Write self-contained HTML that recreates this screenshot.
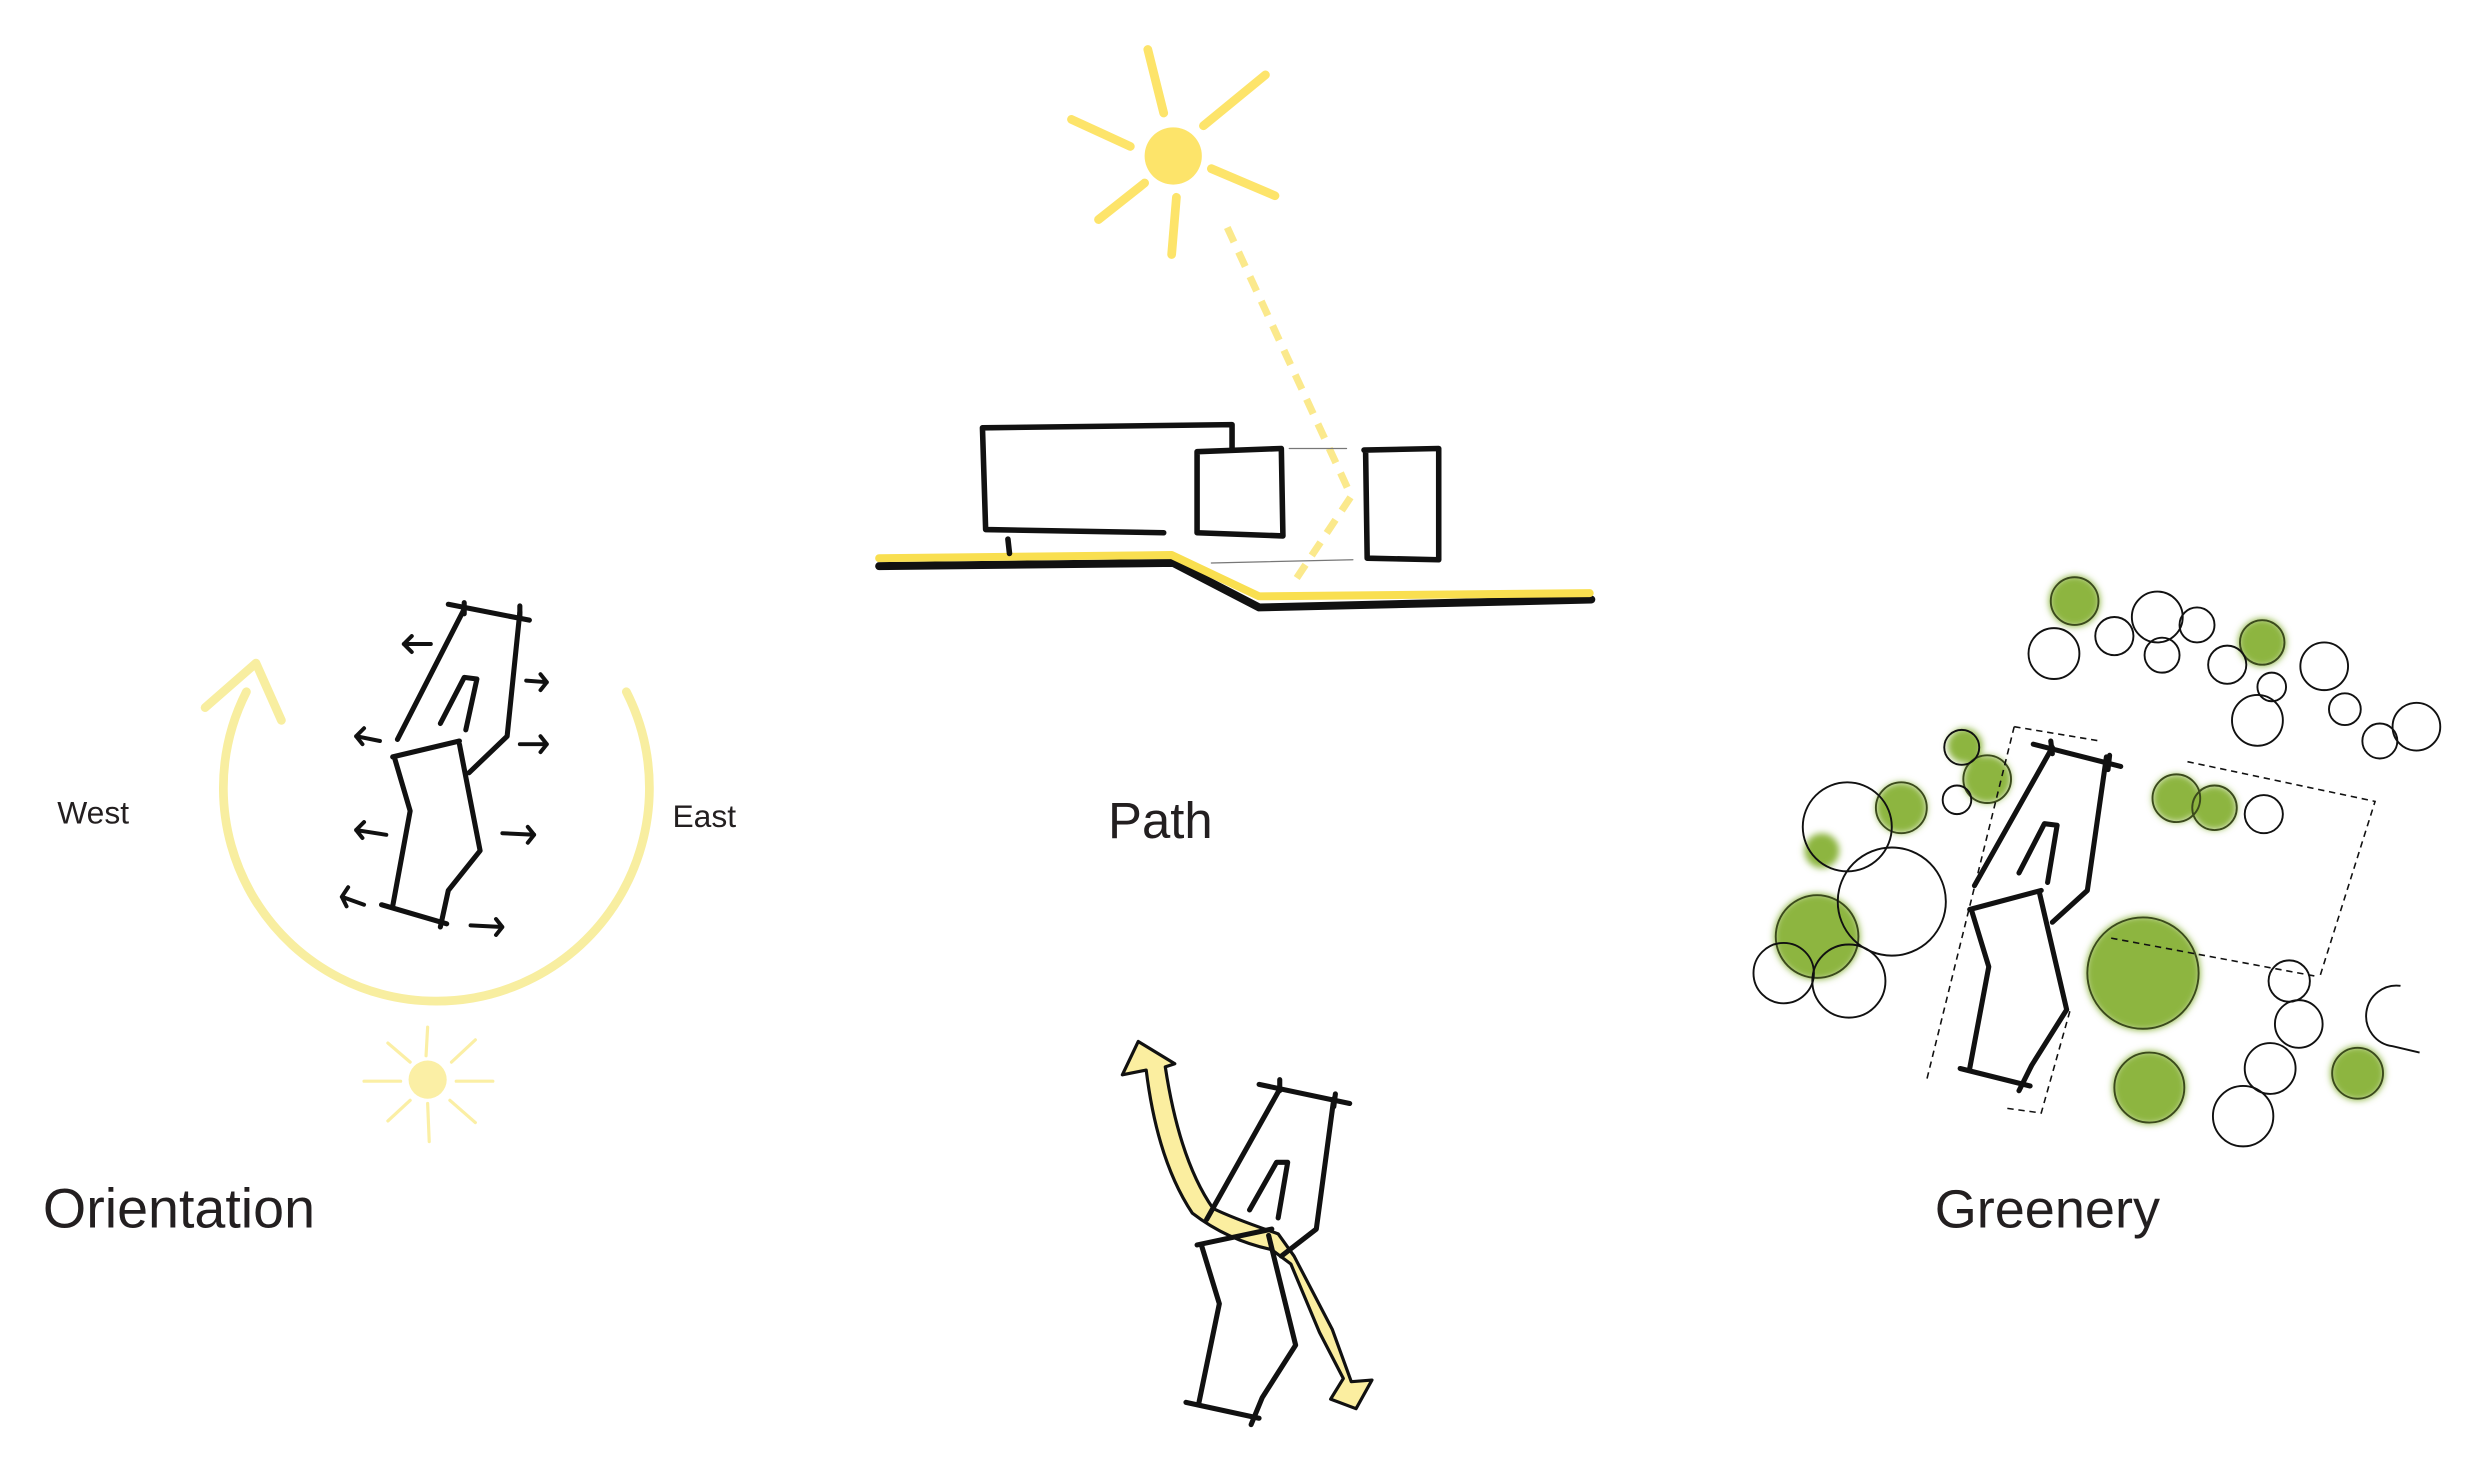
<!DOCTYPE html>
<html><head><meta charset="utf-8"><style>
html,body{margin:0;padding:0;background:#fff;}
svg{display:block;}
text{font-family:"Liberation Sans",sans-serif;fill:#231f20;}
</style></head><body>
<svg width="2480" height="1482" viewBox="0 0 1560 932" xmlns="http://www.w3.org/2000/svg">
<defs>
<filter id="bl" x="-30%" y="-30%" width="160%" height="160%"><feGaussianBlur stdDeviation="2.2"/></filter>
</defs>
<rect width="1560" height="932" fill="#fff"/>

<!-- ORIENTATION -->
<g fill="none" stroke-linecap="round" stroke-linejoin="round">
<path d="M155 435 A134 134 0 1 0 394 435" stroke="#f8eea0" stroke-width="5.5"/>
<path d="M129 445 L161 417 L177 453" stroke="#f8eea0" stroke-width="5.5"/>
<g stroke="#fbefa5" stroke-width="2">
<circle cx="269" cy="679" r="12" fill="#fbefa5" stroke="none"/>
<line x1="269" y1="646" x2="268" y2="664"/><line x1="269" y1="694" x2="270" y2="718"/>
<line x1="229" y1="680" x2="252" y2="680"/><line x1="287" y1="680" x2="310" y2="680"/>
<line x1="244" y1="656" x2="258" y2="668"/><line x1="284" y1="668" x2="299" y2="654"/>
<line x1="244" y1="705" x2="258" y2="692"/><line x1="283" y1="692" x2="299" y2="706"/>
</g>
<g stroke="#111" stroke-width="3.2">
<path d="M282 380 L333 390"/>
<path d="M292 379 L292 386 M327 381 L327 389"/>
<path d="M292 383 L250 465"/>
<path d="M327 385 L319 463 L295 486"/>
<path d="M277 455 L292 426 L300 427 L293 459"/>
<path d="M247 476 L289 466"/>
<path d="M248 476 L258 510 L247 570"/>
<path d="M240 569 L281 581"/>
<path d="M289 468 L302 535 L282 560 L277 583"/>
</g>
<g stroke="#111" stroke-width="2.5">
<path d="M271 405 L254 405 M259 400 L254 405 L259 410"/>
<path d="M239 466 L224 463 M229 458 L224 463 L228 468"/>
<path d="M243 525 L224 522 M229 517 L224 522 L228 527"/>
<path d="M229 569 L215 564 M219 558 L215 564 L218 570"/>
<path d="M331 428 L344 429 M340 424 L344 429 L340 434"/>
<path d="M327 468 L344 468 M340 463 L344 468 L340 473"/>
<path d="M316 524 L336 525 M332 520 L336 525 L332 530"/>
<path d="M296 582 L316 583 M312 578 L316 583 L312 588"/>
</g>
</g>
<text x="36" y="518" font-size="20">West</text>
<text x="423" y="520" font-size="20">East</text>
<text x="27" y="772" font-size="35">Orientation</text>

<!-- PATH SECTION -->
<g fill="none" stroke-linecap="round" stroke-linejoin="round">
<g stroke="#fde46a" stroke-width="5.5">
<line x1="722" y1="31" x2="732" y2="71"/><line x1="796" y1="47" x2="757" y2="79"/>
<line x1="674" y1="75" x2="711" y2="92"/><line x1="762" y1="106" x2="802" y2="123"/>
<line x1="720" y1="115" x2="691" y2="138"/><line x1="740" y1="124" x2="737" y2="160"/>
</g>
<ellipse cx="738" cy="98" rx="18" ry="18" fill="#fde46a"/>
<path d="M772 143 L850 312 L812 369" stroke="#fbe98c" stroke-width="4.5" stroke-dasharray="10 7" stroke-linecap="butt"/>
<path d="M553 356 L738 354 L792 382 L1001 377" stroke="#111" stroke-width="5"/>
<path d="M553 351 L737 349 L792 375 L1000 373" stroke="#f9df50" stroke-width="5"/>
<g stroke="#111" stroke-width="3.5">
<path d="M732 335 L620 333 L618 269 L775 267 L775 282"/>
<path d="M634 339 L635 348"/>
<path d="M753 284 L806 282 L807 337 L753 335 Z"/>
<path d="M858 283 L905 282 L905 352 L860 351 L859 283"/>
</g>
<g stroke="#777" stroke-width="0.8">
<line x1="811" y1="282" x2="847" y2="282"/><line x1="762" y1="354" x2="851" y2="352"/>
</g>
</g>
<text x="697" y="527" font-size="32">Path</text>

<!-- BOTTOM ROUTE -->
<g stroke-linecap="round" stroke-linejoin="round">
<path d="M716 655 L706 676 L721 673 Q728 730 750 763 Q772 780 800 786 L812 795 L830 838 L845 867 L837 880 L853 886 L863 868 L850 869 L838 836 L814 790 L804 776 Q775 766 763 760 Q742 730 733 671 L739 669 Z" fill="#fbeea0" stroke="#111" stroke-width="2"/>
<g fill="none" stroke="#111" stroke-width="3.2">
<path d="M792 682 L849 694"/>
<path d="M805 679 L805 686 M840 688 L839 696"/>
<path d="M805 685 L759 767"/>
<path d="M839 691 L828 773 L806 790"/>
<path d="M786 761 L803 731 L810 731 L804 766"/>
<path d="M753 783 L800 773"/>
<path d="M756 784 L767 820 L754 883"/>
<path d="M746 882 L792 892"/>
<path d="M798 777 L815 846 L794 879 L787 896"/>
</g>
</g>

<!-- GREENERY -->
<g>
<g fill="#8db540" filter="url(#bl)">
<circle cx="1305" cy="378" r="16"/><circle cx="1423" cy="404" r="15"/>
<circle cx="1236" cy="469" r="11"/><circle cx="1250" cy="490" r="15"/>
<circle cx="1196" cy="508" r="16"/><circle cx="1146" cy="535" r="11"/>
<circle cx="1143" cy="589" r="27"/><circle cx="1369" cy="502" r="15"/>
<circle cx="1393" cy="508" r="14"/><circle cx="1348" cy="612" r="36"/>
<circle cx="1352" cy="684" r="23"/><circle cx="1483" cy="675" r="17"/>
</g>
<g fill="none" stroke="#111" stroke-width="1.2">
<circle cx="1305" cy="378" r="15" stroke="#3b4a1c"/><circle cx="1423" cy="404" r="14" stroke="#3b4a1c"/>
<circle cx="1250" cy="490" r="15" stroke="#3b4a1c"/><circle cx="1196" cy="508" r="16" stroke="#3b4a1c"/>
<circle cx="1143" cy="589" r="26" stroke="#3b4a1c"/><circle cx="1369" cy="502" r="15" stroke="#3b4a1c"/>
<circle cx="1393" cy="508" r="14" stroke="#3b4a1c"/><circle cx="1348" cy="612" r="35" stroke="#3b4a1c"/>
<circle cx="1352" cy="684" r="22" stroke="#3b4a1c"/><circle cx="1483" cy="675" r="16" stroke="#3b4a1c"/>
<circle cx="1292" cy="411" r="16"/><circle cx="1330" cy="400" r="12"/>
<circle cx="1357" cy="388" r="16"/><circle cx="1360" cy="412" r="11"/>
<circle cx="1382" cy="393" r="11"/><circle cx="1401" cy="418" r="12"/>
<circle cx="1429" cy="432" r="9"/><circle cx="1462" cy="419" r="15"/>
<circle cx="1420" cy="453" r="16"/><circle cx="1475" cy="446" r="10"/>
<circle cx="1497" cy="466" r="11"/><circle cx="1520" cy="457" r="15"/>
<circle cx="1424" cy="512" r="12"/><circle cx="1234" cy="470" r="11"/>
<circle cx="1231" cy="503" r="9"/>
<circle cx="1162" cy="520" r="28"/><circle cx="1190" cy="567" r="34"/>
<circle cx="1122" cy="612" r="19"/><circle cx="1163" cy="617" r="23"/>
<circle cx="1440" cy="617" r="13"/><circle cx="1446" cy="644" r="15"/>
<path d="M1510 620 A16 16 0 0 0 1505 658 L1522 662"/>
<circle cx="1428" cy="672" r="16"/><circle cx="1411" cy="702" r="19"/>
</g>
<g fill="none" stroke="#111" stroke-width="1" stroke-dasharray="4 3">
<path d="M1267 457 L1321 466"/>
<path d="M1267 457 L1212 679"/>
<path d="M1302 636 L1284 700 L1262 697"/>
<path d="M1376 479 L1494 504 L1459 615"/>
<path d="M1328 590 L1457 614"/>
</g>
<g fill="none" stroke="#111" stroke-width="3.2" stroke-linecap="round" stroke-linejoin="round">
<path d="M1279 468 L1334 482"/>
<path d="M1290 466 L1291 474 M1327 475 L1326 484"/>
<path d="M1291 470 L1242 557"/>
<path d="M1325 476 L1313 560 L1291 580"/>
<path d="M1270 549 L1286 518 L1294 519 L1288 555"/>
<path d="M1239 572 L1284 560"/>
<path d="M1240 572 L1251 608 L1239 672"/>
<path d="M1233 672 L1277 683"/>
<path d="M1283 562 L1300 635 L1278 670 L1270 686"/>
</g>
</g>
<text x="1217" y="772" font-size="34">Greenery</text>
</svg>
</body></html>
